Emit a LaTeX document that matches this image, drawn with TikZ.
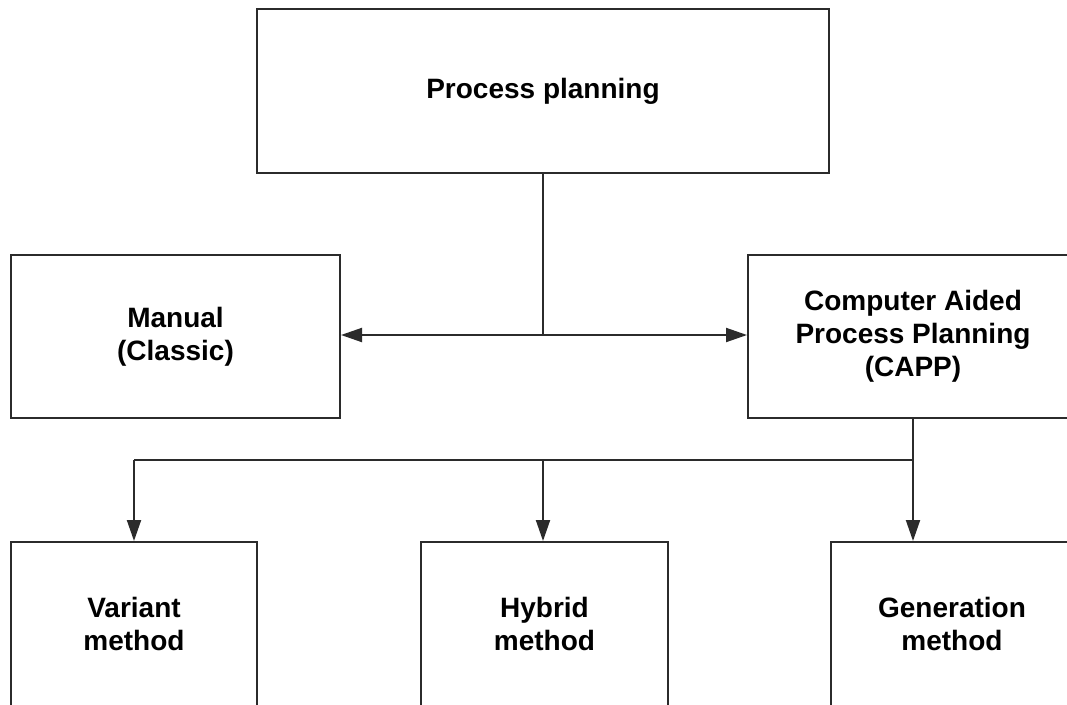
\documentclass[tikz,border=0pt]{standalone}
\usepackage{fontspec}
\setmainfont{Liberation Sans}
\usetikzlibrary{arrows.meta}
\definecolor{linec}{HTML}{2B2B2B}
\tikzset{
  box/.style={draw=linec, line width=2pt, rectangle, align=center, inner sep=0pt,
    font=\bfseries\fontsize{28}{33}\selectfont},
  conn/.style={draw=linec, line width=2pt},
  arr/.style={conn, -{Triangle[length=21pt,width=14pt]}}
}
\begin{document}
\begin{tikzpicture}[x=1pt,y=-1pt]
\useasboundingbox (0,0) rectangle (1067,704);
\clip (0,0) rectangle (1067,704);
\fill[white] (0,0) rectangle (1067,704);
\node[box, minimum width=572pt, minimum height=164pt] (pp) at (543,91) {Process planning};
\node[box, minimum width=329pt, minimum height=163pt] (man) at (175.5,336.5) {Manual\\(Classic)};
\node[box, minimum width=330pt, minimum height=163pt] (capp) at (913,336.5) {Computer Aided\\Process Planning\\(CAPP)};
\node[box, minimum width=246pt, minimum height=164pt] (var) at (134,624) {Variant\\method};
\node[box, minimum width=247pt, minimum height=164pt] (hyb) at (544.5,624) {Hybrid\\method};
\node[box, minimum width=242pt, minimum height=164pt] (gen) at (952,624) {Generation\\method};
\coordinate (j1) at (543,335);
\coordinate (j2) at (913,460);
\coordinate (j3) at (134,460);
\coordinate (j4) at (543,460);
\draw[conn] (pp.south) -- (j1);
\draw[arr] (j1) -- (man.east |- j1);
\draw[arr] (j1) -- (capp.west |- j1);
\draw[conn] (capp.south) -- (j2);
\draw[conn] (j3) -- (j2);
\draw[arr] (j3) -- (var.north);
\draw[arr] (j4) -- (j4 |- hyb.north);
\draw[arr] (j2) -- (j2 |- gen.north);
\end{tikzpicture}
\end{document}
